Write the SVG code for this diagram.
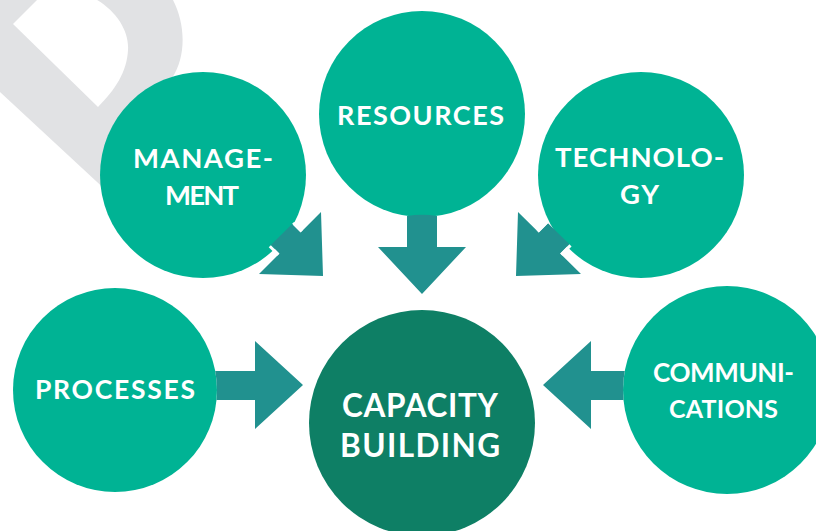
<svg xmlns="http://www.w3.org/2000/svg" width="816" height="531" viewBox="0 0 816 531">
  <defs>
    <style>
      .node { fill: #00B394; }
      .hub { fill: #0E7F65; }
      .arrow { fill: #21918F; }
      .gap { stroke: #FFFFFF; stroke-width: 3; fill: none; }
      .lbl { fill: #FFFFFF; font-family: "Lato", "Liberation Sans", sans-serif; font-weight: 700; }
    </style>
  </defs>
  <rect width="816" height="531" fill="#FFFFFF"/>
  <path id="watermark" fill="#E1E2E4" fill-rule="evenodd" d="M0,0 H173 C186,25 186,57 172,78 L150,130 L110,194 L0,92 Z M13,24 L37,0 L50,-13 C100,-12 130,22 128,50 C127,72 115,90 98,107 Z"/>

  <g id="management"><circle class="node" cx="203" cy="175" r="103"/>
    <text class="lbl" font-size="27.5" x="133" y="168" textLength="140" lengthAdjust="spacing">MANAGE-</text>
    <text class="lbl" font-size="27.5" x="165" y="205" textLength="74" lengthAdjust="spacing">MENT</text></g>
  <g id="resources"><circle class="node" cx="422" cy="114" r="103"/>
    <text class="lbl" font-size="27" x="337" y="125" textLength="167" lengthAdjust="spacing">RESOURCES</text></g>
  <g id="technology"><circle class="node" cx="641" cy="175" r="103"/>
    <text class="lbl" font-size="27.5" x="555" y="167" textLength="169" lengthAdjust="spacing">TECHNOLO-</text>
    <text class="lbl" font-size="27.5" x="620" y="204" textLength="39" lengthAdjust="spacing">GY</text></g>
  <g id="processes"><circle class="node" cx="115" cy="390" r="102"/>
    <text class="lbl" font-size="26.5" x="35" y="399" textLength="160" lengthAdjust="spacing">PROCESSES</text></g>
  <g id="communications"><circle class="node" cx="727" cy="390" r="104"/>
    <text class="lbl" font-size="26" x="653" y="382" textLength="141" lengthAdjust="spacing">COMMUNI-</text>
    <text class="lbl" font-size="25" x="669" y="418" textLength="109" lengthAdjust="spacing">CATIONS</text></g>
  <g id="capacity-building"><circle class="hub" cx="422" cy="423" r="113"/>
    <text class="lbl" font-size="31.5" x="342" y="417" textLength="156" lengthAdjust="spacing">CAPACITY</text>
    <text class="lbl" font-size="31.5" x="340" y="457" textLength="160" lengthAdjust="spacing">BUILDING</text></g>

  <g id="connectors">
    <path class="arrow" d="M437,215.9 L437,247 L466,247 L422,294 L378,247 L407,247 L407,215.9 A103,103 0 0 1 437,215.9 Z"/>
    <path class="arrow" d="M215.2,371 L255,371 L255,341 L303,385 L255,429 L255,400 L216.5,400 A102,102 0 0 0 215.2,371 Z"/>
    <path class="arrow" d="M624.8,371 L591,371 L591,341 L543,385 L591,429 L591,400 L623.5,400 A104,104 0 0 1 624.8,371 Z"/>
    <path class="arrow" d="M292.1,223.9 L300.6,232.4 L321,212 L323,276 L259,274 L279.4,253.6 L270.9,245.1 Z"/>
    <line class="gap" x1="301.7" y1="231.3" x2="293.2" y2="222.8"/>
    <line class="gap" x1="278.3" y1="254.7" x2="269.8" y2="246.2"/>
    <path class="arrow" d="M548.0,223.3 L538.8,232.5 L518,212 L516,276 L581,274 L560.2,253.5 L569.4,244.3 Z"/>
    <line class="gap" x1="537.7" y1="231.4" x2="546.9" y2="222.2"/>
    <line class="gap" x1="561.3" y1="254.6" x2="570.5" y2="245.4"/>
  </g>
</svg>
